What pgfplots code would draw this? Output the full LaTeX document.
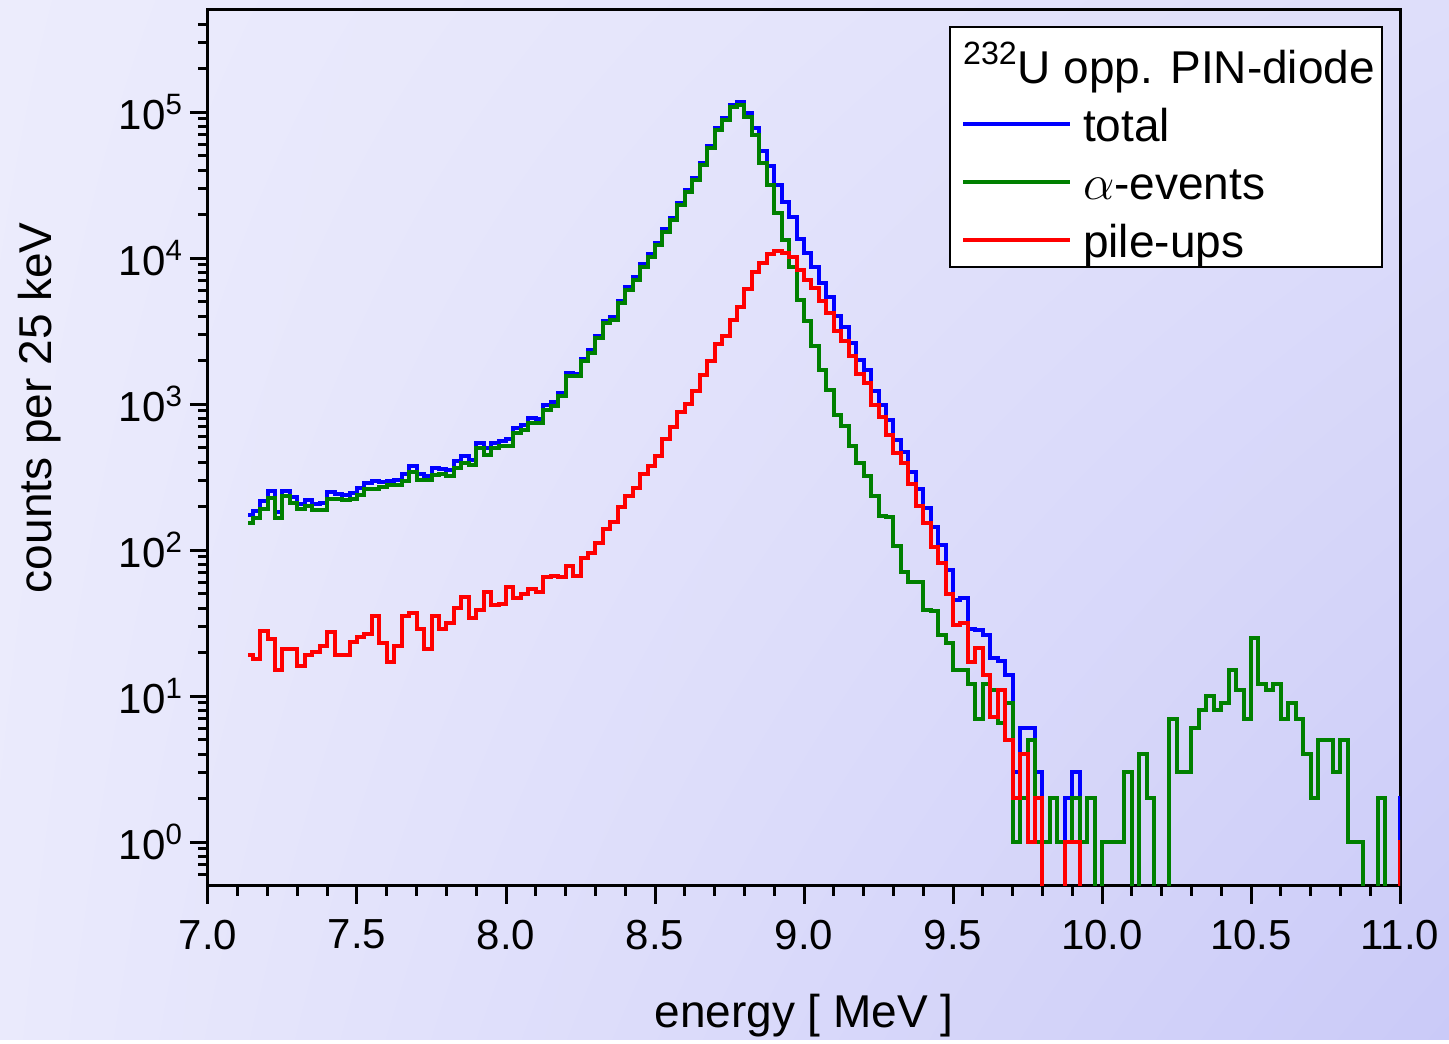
\documentclass[border=0pt]{standalone}
\usepackage{pgfplots}
\pgfplotsset{compat=1.18}
\usetikzlibrary{shadings}
\usepackage{fontspec}
\setmainfont{Liberation Sans}
\definecolor{bgUL}{RGB}{236,236,252}
\definecolor{bgUR}{RGB}{222,222,250}
\definecolor{bgLL}{RGB}{234,234,252}
\definecolor{bgLR}{RGB}{202,202,248}
\definecolor{cgreen}{RGB}{0,128,0}
\begin{document}
\begin{tikzpicture}
\shade[upper left=bgUL, upper right=bgUR, lower left=bgLL, lower right=bgLR] (-104pt,-77pt) rectangle (620.5pt,443pt);
\begin{axis}[
  at={(0,0)}, anchor=south west,
  scale only axis, width=596pt, height=438pt,
  xmin=7, xmax=11, ymin=0.5, ymax=5e5, ymode=log,
  axis line style={line width=1.5pt},
  tick align=outside, tick pos=left,
  major tick length=9pt, minor tick length=5pt,
  every tick/.style={black, line width=1.5pt},
  xtick={7,7.5,8,8.5,9,9.5,10,10.5,11},
  xticklabels={7.0,7.5,8.0,8.5,9.0,9.5,10.0,10.5,11.0},
  minor x tick num=4,
  ytick={1,10,100,1000,10000,100000},
  yticklabels={10\textsuperscript{0},10\textsuperscript{1},10\textsuperscript{2},10\textsuperscript{3},10\textsuperscript{4},10\textsuperscript{5}},
  minor ytick={0.6,0.7,0.8,0.9,2,3,4,5,6,7,8,9,20,30,40,50,60,70,80,90,200,300,400,500,600,700,800,900,2000,3000,4000,5000,6000,7000,8000,9000,20000,30000,40000,50000,60000,70000,80000,90000,200000,300000,400000},
  ticklabel style={font=\fontsize{21}{25}\selectfont},
  xticklabel style={yshift=-4.5pt},
  xlabel={energy [ MeV ]},
  ylabel={counts per 25 keV},
  label style={font=\fontsize{23}{27}\selectfont},
  xlabel style={at={(axis description cs:0.5,-0.148)}, anchor=center},
  ylabel style={at={(axis description cs:-0.141,0.546)}, anchor=center},
  legend cell align=left,
  legend style={at={(axis description cs:0.9857,0.9817)}, anchor=north east,
    draw=black, line width=1pt, fill=white, font=\fontsize{23}{27}\selectfont,
    row sep=0pt, inner xsep=5.5pt, inner ysep=2pt,
    nodes={inner sep=2pt, text height=24pt, text depth=1pt}},
  legend image code/.code={\draw[#1, line width=2pt] (0pt,-3pt) -- (53.5pt,-3pt); \path (57pt,-3pt);},
]
\addlegendimage{empty legend}
\addlegendentry{\hspace*{-60pt}\textsuperscript{232}U opp. PIN-diode\hspace*{-4pt}}

\addplot[blue, line width=2pt, const plot] coordinates {
(7.135,173)(7.15,184)(7.175,218)(7.2,252)(7.225,181)(7.25,255)(7.275,231)(7.3,206)(7.325,219)(7.35,208)(7.375,210)(7.4,251)(7.425,243)(7.45,240)(7.475,247)(7.5,265)(7.525,288)(7.55,299)(7.575,292)(7.6,298)(7.625,303)(7.65,332)(7.675,378)(7.7,331)(7.725,323)(7.75,365)(7.775,360)(7.8,356)(7.825,406)(7.85,443)(7.875,414)(7.9,540)(7.925,503)(7.95,543)(7.975,562)(8.0,575)(8.025,681)(8.05,718)(8.075,797)(8.1,793)(8.125,981)(8.15,1032)(8.175,1195)(8.2,1627)(8.225,1615)(8.25,2048)(8.275,2335)(8.3,2943)(8.325,3729)(8.35,3931)(8.375,5118)(8.4,6287)(8.425,7363)(8.45,9084)(8.475,10605)(8.5,12739)(8.525,15747)(8.55,18937)(8.575,23997)(8.6,29187)(8.625,35502)(8.65,44939)(8.675,58449)(8.7,77928)(8.725,91004)(8.75,112426)(8.775,116356)(8.8,99024)(8.825,77695)(8.85,53796)(8.875,42415)(8.9,31450)(8.925,24140)(8.95,18980)(8.975,13422)(9.0,10809)(9.025,8735)(9.05,6749)(9.075,5440)(9.1,3986)(9.125,3390)(9.15,2632)(9.175,2009)(9.2,1713)(9.225,1225)(9.25,984)(9.275,783)(9.3,568)(9.325,466)(9.35,345)(9.375,260)(9.4,193)(9.425,143)(9.45,108)(9.475,73)(9.5,45.5)(9.525,46.6)(9.55,29)(9.575,28.5)(9.6,26)(9.625,18.2)(9.65,17.5)(9.675,14)(9.7,3)(9.725,6)(9.75,6)(9.775,3)(9.8,1)(9.825,2)(9.85,1)(9.875,2)(9.9,3)(9.925,1)(9.95,2)(9.975,0.1)(10.0,1)(10.025,1)(10.05,1)(10.075,3)(10.1,0.1)(10.125,4)(10.15,2)(10.175,0.1)(10.2,0.1)(10.225,7)(10.25,3)(10.275,3)(10.3,6)(10.325,8)(10.35,10)(10.375,8)(10.4,9)(10.425,15)(10.45,11)(10.475,7)(10.5,25)(10.525,12)(10.55,11)(10.575,12)(10.6,7)(10.625,9)(10.65,7)(10.675,4)(10.7,2)(10.725,5)(10.75,5)(10.775,3)(10.8,5)(10.825,1)(10.85,1)(10.875,0.1)(10.9,0.1)(10.925,2)(10.95,0.1)(10.975,0.1)(11.0,2)(11.03,2)
};
\addlegendentry{total}

\addplot[cgreen, line width=2pt, const plot] coordinates {
(7.135,154)(7.15,166)(7.175,190)(7.2,228)(7.225,166)(7.25,234)(7.275,210)(7.3,190)(7.325,200)(7.35,188)(7.375,188)(7.4,224)(7.425,224)(7.45,221)(7.475,224)(7.5,240)(7.525,262)(7.55,263)(7.575,269)(7.6,281)(7.625,281)(7.65,296)(7.675,341)(7.7,302)(7.725,302)(7.75,329)(7.775,331)(7.8,324)(7.825,366)(7.85,395)(7.875,380)(7.9,501)(7.925,451)(7.95,501)(7.975,519)(8.0,519)(8.025,634)(8.05,668)(8.075,743)(8.1,741)(8.125,916)(8.15,966)(8.175,1130)(8.2,1549)(8.225,1549)(8.25,1959)(8.275,2239)(8.3,2831)(8.325,3589)(8.35,3776)(8.375,4920)(8.4,6053)(8.425,7096)(8.45,8750)(8.475,10230)(8.5,12300)(8.525,15170)(8.55,18240)(8.575,23120)(8.6,28180)(8.625,34280)(8.65,43350)(8.675,56490)(8.7,75340)(8.725,88100)(8.75,108650)(8.775,111700)(8.8,92900)(8.825,69660)(8.85,44570)(8.875,31700)(8.9,20280)(8.925,13300)(8.95,8750)(8.975,5200)(9.0,3680)(9.025,2512)(9.05,1702)(9.075,1242)(9.1,845)(9.125,705)(9.15,514)(9.175,395)(9.2,320)(9.225,234)(9.25,171)(9.275,169)(9.3,106)(9.325,71)(9.35,60)(9.375,60)(9.4,39)(9.425,38)(9.45,26)(9.475,23)(9.5,15)(9.525,15)(9.55,12)(9.575,7)(9.6,12)(9.625,11)(9.65,6.5)(9.675,9)(9.7,1)(9.725,2)(9.75,5)(9.775,1)(9.8,1)(9.825,2)(9.85,1)(9.875,1)(9.9,2)(9.925,1)(9.95,2)(9.975,0.1)(10.0,1)(10.025,1)(10.05,1)(10.075,3)(10.1,0.1)(10.125,4)(10.15,2)(10.175,0.1)(10.2,0.1)(10.225,7)(10.25,3)(10.275,3)(10.3,6)(10.325,8)(10.35,10)(10.375,8)(10.4,9)(10.425,15)(10.45,11)(10.475,7)(10.5,25)(10.525,12)(10.55,11)(10.575,12)(10.6,7)(10.625,9)(10.65,7)(10.675,4)(10.7,2)(10.725,5)(10.75,5)(10.775,3)(10.8,5)(10.825,1)(10.85,1)(10.875,0.1)(10.9,0.1)(10.925,2)(10.95,0.1)(10.975,0.1)(11.0,1)(11.03,1)
};
\addlegendentry{$\alpha$-events}

\addplot[red, line width=2pt, const plot] coordinates {
(7.135,19)(7.15,18)(7.175,28)(7.2,24.5)(7.225,15)(7.25,21)(7.275,21)(7.3,16)(7.325,19)(7.35,20)(7.375,22)(7.4,27.5)(7.425,19)(7.45,19)(7.475,23.5)(7.5,25.5)(7.525,26.4)(7.55,35.6)(7.575,23)(7.6,17)(7.625,22)(7.65,35.6)(7.675,36.8)(7.7,28.9)(7.725,21)(7.75,35.6)(7.775,28.6)(7.8,31.5)(7.825,40)(7.85,48)(7.875,34)(7.9,39)(7.925,51.5)(7.95,42)(7.975,43)(8.0,56)(8.025,47)(8.05,50)(8.075,54)(8.1,51.5)(8.125,65)(8.15,66)(8.175,65)(8.2,78)(8.225,66)(8.25,88.5)(8.275,96)(8.3,112)(8.325,140)(8.35,155)(8.375,198)(8.4,234)(8.425,267)(8.45,334)(8.475,375)(8.5,439)(8.525,577)(8.55,697)(8.575,877)(8.6,1007)(8.625,1222)(8.65,1589)(8.675,1959)(8.7,2588)(8.725,2904)(8.75,3776)(8.775,4656)(8.8,6124)(8.825,8035)(8.85,9226)(8.875,10715)(8.9,11170)(8.925,10840)(8.95,10230)(8.975,8222)(9.0,7129)(9.025,6223)(9.05,5047)(9.075,4198)(9.1,3141)(9.125,2685)(9.15,2118)(9.175,1614)(9.2,1393)(9.225,991)(9.25,813)(9.275,614)(9.3,462)(9.325,395)(9.35,285)(9.375,200)(9.4,154)(9.425,105)(9.45,82)(9.475,50)(9.5,30.5)(9.525,31.6)(9.55,17)(9.575,21.5)(9.6,14)(9.625,7.2)(9.65,11)(9.675,5)(9.7,2)(9.725,4)(9.75,1)(9.775,2)(9.8,0.1)(9.825,0.1)(9.85,0.1)(9.875,1)(9.9,1)(9.925,0.1)(10.975,0.1)(11.0,1)(11.03,1)
};
\addlegendentry{pile-ups}
\end{axis}
\end{tikzpicture}
\end{document}
